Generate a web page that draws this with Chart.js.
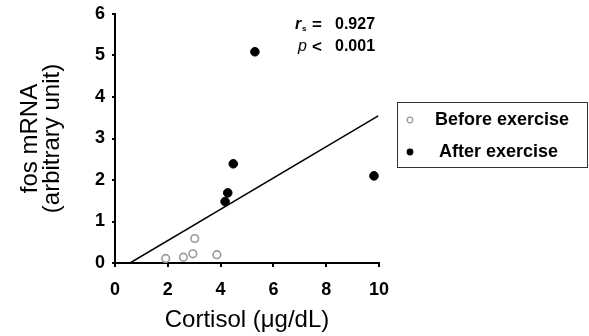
<!DOCTYPE html>
<html>
<head>
<meta charset="utf-8">
<script src="https://cdn.jsdelivr.net/npm/chart.js@4"></script>
<style>
  html, body { margin: 0; padding: 0; background: #fff; }
  #wrap { width: 589px; height: 336px; }
</style>
</head>
<body>
<div id="wrap"><canvas id="c" width="589" height="336"></canvas></div>
<script>
// data
const beforeX = [1.92, 2.59, 2.95, 3.02, 3.86];
const beforeY = [0.11, 0.14, 0.22, 0.59, 0.20];
const afterX = [4.17, 4.27, 4.48, 5.30, 9.81];
const afterY = [1.48, 1.69, 2.39, 5.09, 2.10];
const fitX = [0.57, 9.97];
const fitSlope = 0.377;
const fitStart = 0.57;
const xTicks = [0, 2, 4, 6, 8, 10];
const yTicks = [0, 1, 2, 3, 4, 5, 6];
const statR = '0.927';
const statP = '0.001';

const font = 'Liberation Sans, Arial, sans-serif';

function pts(xs, ys) {
  return xs.map((x, i) => ({x: x, y: ys[i]}));
}

const overlay = {
  id: 'overlay',
  afterDraw(chart) {
    const ctx = chart.ctx;
    ctx.save();
    // stats text
    ctx.fillStyle = '#000';
    ctx.textBaseline = 'middle';
    ctx.textAlign = 'left';
    ctx.font = 'italic bold 16px ' + font;
    ctx.fillText('r', 295, 25);
    ctx.font = 'bold 8px ' + font;
    ctx.fillText('s', 302, 29);
    ctx.font = 'bold 17px ' + font;
    ctx.fillText('=', 312, 25);
    ctx.font = 'bold 16px ' + font;
    ctx.fillText(statR, 335, 25);
    ctx.font = 'italic 16px ' + font;
    ctx.fillText('p', 298, 47);
    ctx.font = 'bold 17px ' + font;
    ctx.fillText('<', 312, 47);
    ctx.font = 'bold 16px ' + font;
    ctx.fillText(statP, 335, 47);

    // legend box
    ctx.strokeStyle = '#333';
    ctx.lineWidth = 1;
    ctx.strokeRect(397.5, 102.5, 190, 65);
    const ds = chart.data.datasets;
    const rows = [
      {y: 120, d: ds[0], tx: 435},
      {y: 152, d: ds[1], tx: 439}
    ];
    rows.forEach(r => {
      ctx.beginPath();
      ctx.arc(410, r.y, 2.8, 0, Math.PI * 2);
      if (r.d.backgroundColor !== 'transparent') {
        ctx.fillStyle = r.d.backgroundColor;
        ctx.fill();
      }
      ctx.strokeStyle = r.d.borderColor;
      ctx.lineWidth = 1.2;
      ctx.stroke();
      ctx.fillStyle = '#000';
      ctx.font = 'bold 18px ' + font;
      ctx.fillText(r.d.label, r.tx, r.y);
    });
    ctx.restore();
  }
};

new Chart(document.getElementById('c'), {
  type: 'scatter',
  data: {
    datasets: [
      {
        label: 'Before exercise',
        data: pts(beforeX, beforeY),
        backgroundColor: 'transparent',
        borderColor: '#9a9a9a',
        borderWidth: 1.6,
        pointRadius: 3.8
      },
      {
        label: 'After exercise',
        data: pts(afterX, afterY),
        backgroundColor: '#000',
        borderColor: '#000',
        borderWidth: 1,
        pointRadius: 4.3
      },
      {
        label: 'fit',
        type: 'line',
        data: fitX.map(x => ({x: x, y: fitSlope * (x - fitStart)})),
        borderColor: '#000',
        borderWidth: 1.5,
        pointRadius: 0,
        fill: false
      }
    ]
  },
  options: {
    responsive: false,
    animation: false,
    layout: {padding: {left: 10, right: 210, top: 14, bottom: 0}},
    plugins: {legend: {display: false}, tooltip: {enabled: false}},
    scales: {
      x: {
        type: 'linear',
        min: 0, max: 10,
        afterBuildTicks(s) { s.ticks = xTicks.map(v => ({value: v})); },
        afterFit(s) { s.height = 73; s.paddingLeft = 0; s.paddingRight = 0; },
        border: {color: '#000', width: 2},
        grid: {drawOnChartArea: false, color: '#000', lineWidth: 2, tickLength: 4},
        ticks: {color: '#000', font: {family: font, size: 18, weight: 'bold'}, padding: 12},
        title: {display: true, text: 'Cortisol (\u03bcg/dL)', color: '#000',
          font: {family: font, size: 24}, padding: {top: 0, bottom: 1}}
      },
      y: {
        min: 0, max: 6,
        afterBuildTicks(s) { s.ticks = yTicks.map(v => ({value: v})); },
        afterFit(s) { s.width = 105; s.paddingTop = 0; s.paddingBottom = 0; },
        border: {color: '#000', width: 2},
        grid: {drawOnChartArea: false, color: '#000', lineWidth: 2, tickLength: 3},
        ticks: {color: '#000', font: {family: font, size: 18, weight: 'bold'}, padding: 7},
        title: {display: true, text: ['fos mRNA', '(arbitrary unit)'], color: '#000',
          font: {family: font, size: 24, lineHeight: 0.9}, padding: {top: 10, bottom: 0}}
      }
    }
  },
  plugins: [overlay]
});
</script>
</body>
</html>
